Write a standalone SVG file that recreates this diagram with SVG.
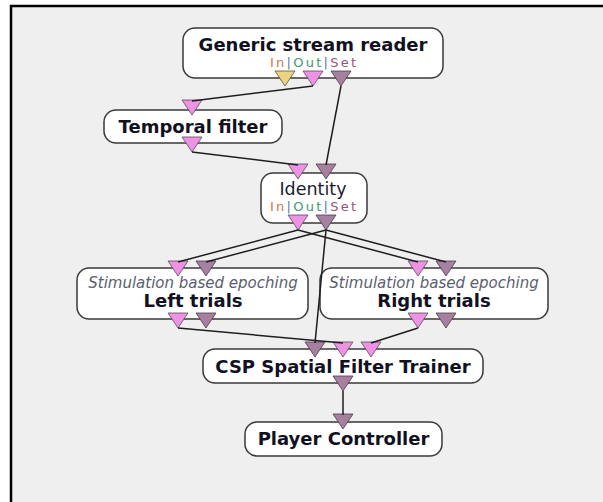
<svg xmlns="http://www.w3.org/2000/svg" width="603" height="502" viewBox="0 0 603 502">
<style>
.box{fill:#ffffff;stroke:#3a3a3a;stroke-width:1.5}
.title{font-family:"DejaVu Sans",sans-serif;font-weight:bold;font-size:18px;fill:#111122;text-anchor:middle}
.plain{font-family:"DejaVu Sans",sans-serif;font-size:17.5px;fill:#1a1a30;text-anchor:middle}
.sub{font-family:"DejaVu Sans",sans-serif;font-style:italic;font-size:15px;fill:#5a6070;text-anchor:middle}
.ios{font-family:"DejaVu Sans",sans-serif;font-size:13px;text-anchor:middle}
.ci{fill:#c87a44}.co{fill:#3e9a72}.cs{fill:#9a5676}.cb{fill:#5a78b0}
.tp{fill:#ee92e4;stroke:#5a4a5a;stroke-width:0.8}
.tu{fill:#a8809f;stroke:#4a3a4a;stroke-width:0.8}
.ty{fill:#eed283;stroke:#5a5040;stroke-width:0.8}
.link{fill:none;stroke:#1e1e1e;stroke-width:1.5}
</style>
<defs>
<path id="tri" d="M-10,0 L10,0 L0,15 Z"/>
</defs>
<rect x="0" y="0" width="603" height="502" fill="#ffffff"/>
<rect x="11" y="6" width="700" height="700" fill="#efefef" stroke="#000000" stroke-width="2.5"/>

<g id="node-generic">
<rect class="box" x="183" y="28" width="260" height="50" rx="12"/>
<text class="title" x="313" y="51">Generic stream reader</text>
<text class="ios" x="313" y="67" textLength="86" lengthAdjust="spacing"><tspan class="ci">In</tspan><tspan class="cb">|</tspan><tspan class="co">Out</tspan><tspan class="cb">|</tspan><tspan class="cs">Set</tspan></text>
<use href="#tri" class="ty" x="285" y="71"/>
<use href="#tri" class="tp" x="313" y="71"/>
<use href="#tri" class="tu" x="341" y="71"/>
</g>

<g id="node-temporal">
<rect class="box" x="104" y="110" width="178" height="33" rx="12"/>
<text class="title" x="193" y="133">Temporal filter</text>
<use href="#tri" class="tp" x="192" y="100"/>
<use href="#tri" class="tp" x="192" y="137"/>
</g>

<g id="node-identity">
<rect class="box" x="261" y="173" width="106" height="50" rx="12"/>
<text class="plain" x="313" y="195">Identity</text>
<text class="ios" x="313" y="211" textLength="86" lengthAdjust="spacing"><tspan class="ci">In</tspan><tspan class="cb">|</tspan><tspan class="co">Out</tspan><tspan class="cb">|</tspan><tspan class="cs">Set</tspan></text>
<use href="#tri" class="tp" x="298" y="164"/>
<use href="#tri" class="tu" x="326" y="164"/>
<use href="#tri" class="tp" x="298" y="215"/>
<use href="#tri" class="tu" x="326" y="215"/>
</g>

<g id="node-left">
<rect class="box" x="77" y="268" width="231" height="51" rx="12"/>
<text class="sub" x="193" y="288">Stimulation based epoching</text>
<text class="title" x="193" y="307">Left trials</text>
<use href="#tri" class="tp" x="178" y="261"/>
<use href="#tri" class="tu" x="206" y="261"/>
<use href="#tri" class="tp" x="178" y="313"/>
<use href="#tri" class="tu" x="206" y="313"/>
</g>

<g id="node-right">
<rect class="box" x="320" y="268" width="228" height="51" rx="12"/>
<text class="sub" x="434" y="288">Stimulation based epoching</text>
<text class="title" x="434" y="307">Right trials</text>
<use href="#tri" class="tp" x="418" y="261"/>
<use href="#tri" class="tu" x="446" y="261"/>
<use href="#tri" class="tp" x="418" y="313"/>
<use href="#tri" class="tu" x="446" y="313"/>
</g>

<g id="node-csp">
<rect class="box" x="203" y="349" width="280" height="34" rx="12"/>
<text class="title" x="343" y="373">CSP Spatial Filter Trainer</text>
<use href="#tri" class="tu" x="315" y="342"/>
<use href="#tri" class="tp" x="343" y="342"/>
<use href="#tri" class="tp" x="371" y="342"/>
<use href="#tri" class="tu" x="343" y="376"/>
</g>

<g id="node-player">
<rect class="box" x="245" y="422" width="197" height="34" rx="12"/>
<text class="title" x="343.5" y="445">Player Controller</text>
<use href="#tri" class="tu" x="343" y="414"/>
</g>

<g id="connectors">
<line class="link" x1="313" y1="86" x2="192" y2="101"/>
<line class="link" x1="341" y1="86" x2="326" y2="165"/>
<line class="link" x1="192" y1="152" x2="298" y2="165"/>
<line class="link" x1="298" y1="230" x2="178" y2="262"/>
<line class="link" x1="326" y1="230" x2="206" y2="262"/>
<line class="link" x1="298" y1="230" x2="418" y2="262"/>
<line class="link" x1="326" y1="230" x2="446" y2="262"/>
<line class="link" x1="326" y1="230" x2="315" y2="343"/>
<line class="link" x1="178" y1="328" x2="343" y2="343"/>
<line class="link" x1="418" y1="328" x2="371" y2="343"/>
<line class="link" x1="343" y1="391" x2="343" y2="415"/>
</g>
</svg>
